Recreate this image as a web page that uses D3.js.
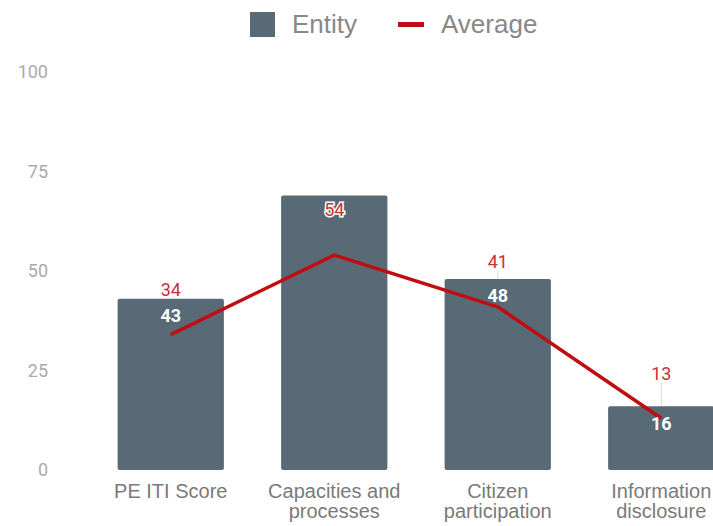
<!DOCTYPE html>
<html>
<head>
<meta charset="utf-8">
<script src="https://cdn.jsdelivr.net/npm/d3@7"></script>
<style>
  body { margin: 0; background: #fff; }
</style>
</head>
<body>
<script>
var categories = [["PE ITI Score"], ["Capacities and", "processes"], ["Citizen", "participation"], ["Information", "disclosure"]];
var entity = [43, 69, 48, 16];
var average = [34, 54, 41, 13];
var yTicks = [0, 25, 50, 75, 100];

var svg = d3.select("body")
    .append("svg")
    .attr("width", 713)
    .attr("height", 526)
    .style("display", "block");

var keys = categories.map(function(c) { return c.join(" "); });

var x = d3.scaleBand()
    .domain(keys)
    .range([89, 743])
    .paddingInner(0.35)
    .paddingOuter(0.175);

var y = d3.scaleLinear()
    .domain([0, 100])
    .range([470, 72]);

// y axis, labels only
var yAxis = d3.axisLeft(y).tickValues(yTicks).tickSize(0).tickPadding(0);
var gy = svg.append("g")
    .attr("transform", "translate(48,0)")
    .call(yAxis);
gy.select(".domain").remove();
gy.selectAll("text")
    .style("font-family", "Roboto, sans-serif")
    .style("font-size", "18px")
    .attr("fill", "#aaaaaa");

// x axis labels
var gx = svg.append("g");
categories.forEach(function(c, i) {
    var t = gx.append("text")
        .attr("x", x(keys[i]) + x.bandwidth() / 2)
        .attr("y", 498)
        .attr("text-anchor", "middle")
        .style("font-family", "'Liberation Sans', Arial, sans-serif")
        .style("font-size", "20px")
        .attr("fill", "#7a7a7a");
    c.forEach(function(line, j) {
        t.append("tspan")
            .attr("x", x(keys[i]) + x.bandwidth() / 2)
            .attr("dy", j == 0 ? 0 : 20)
            .text(line);
    });
});

var data = keys.map(function(k, i) { return {key: k, entity: entity[i], average: average[i]}; });

function avgLabelY(d) { return y(d.average) - 45; }
function entLabelY(d) { return y(d.entity) + 17; }

// annotation stems (behind bars)
svg.selectAll(".stem")
    .data(data)
    .enter()
    .append("line")
    .attr("class", "stem")
    .attr("x1", function(d) { return x(d.key) + x.bandwidth() / 2; })
    .attr("x2", function(d) { return x(d.key) + x.bandwidth() / 2; })
    .attr("y1", function(d) { return avgLabelY(d) + 9; })
    .attr("y2", function(d) { return y(d.average); })
    .attr("stroke", "#d8d8d8")
    .attr("stroke-width", 1);

// bars
svg.selectAll(".bar")
    .data(data)
    .enter()
    .append("rect")
    .attr("class", "bar")
    .attr("x", function(d) { return x(d.key); })
    .attr("y", function(d) { return y(d.entity); })
    .attr("width", x.bandwidth())
    .attr("height", function(d) { return y(0) - y(d.entity); })
    .attr("rx", 2)
    .attr("fill", "#596a77");

// average line
var line = d3.line()
    .x(function(d) { return x(d.key) + x.bandwidth() / 2; })
    .y(function(d) { return y(d.average); });

svg.append("path")
    .datum(data)
    .attr("d", line)
    .attr("fill", "none")
    .attr("stroke", "#c00d12")
    .attr("stroke-width", 3.5)
    .attr("stroke-linejoin", "round");

// entity labels (hidden when the average label sits on top)
svg.selectAll(".elab")
    .data(data.filter(function(d) { return Math.abs(entLabelY(d) - avgLabelY(d)) > 16; }))
    .enter()
    .append("text")
    .attr("class", "elab")
    .attr("x", function(d) { return x(d.key) + x.bandwidth() / 2; })
    .attr("y", function(d) { return entLabelY(d); })
    .attr("dy", "0.35em")
    .attr("text-anchor", "middle")
    .style("font-family", "Roboto, sans-serif")
    .style("font-size", "18px")
    .style("font-weight", "bold")
    .attr("fill", "#ffffff")
    .text(function(d) { return d.entity; });

// average labels with white halo
svg.selectAll(".alab")
    .data(data)
    .enter()
    .append("text")
    .attr("class", "alab")
    .attr("x", function(d) { return x(d.key) + x.bandwidth() / 2; })
    .attr("y", function(d) { return avgLabelY(d); })
    .attr("dy", "0.35em")
    .attr("text-anchor", "middle")
    .style("font-family", "Roboto, sans-serif")
    .style("font-size", "18px")
    .attr("fill", "#cc3035")
    .attr("stroke", "#ffffff")
    .attr("stroke-width", 3)
    .attr("paint-order", "stroke")
    .text(function(d) { return d.average; });

// legend
svg.append("rect")
    .attr("x", 250)
    .attr("y", 12)
    .attr("width", 25)
    .attr("height", 25)
    .attr("fill", "#596a77");

svg.append("text")
    .attr("x", 292)
    .attr("y", 33)
    .text("Entity")
    .style("font-family", "'Liberation Sans', Arial, sans-serif")
    .style("font-size", "26px")
    .attr("fill", "#888888");

svg.append("rect")
    .attr("x", 398)
    .attr("y", 22)
    .attr("width", 26)
    .attr("height", 5)
    .attr("fill", "#c00d12");

svg.append("text")
    .attr("x", 441)
    .attr("y", 33)
    .text("Average")
    .style("font-family", "'Liberation Sans', Arial, sans-serif")
    .style("font-size", "26px")
    .attr("fill", "#888888");
</script>
</body>
</html>
